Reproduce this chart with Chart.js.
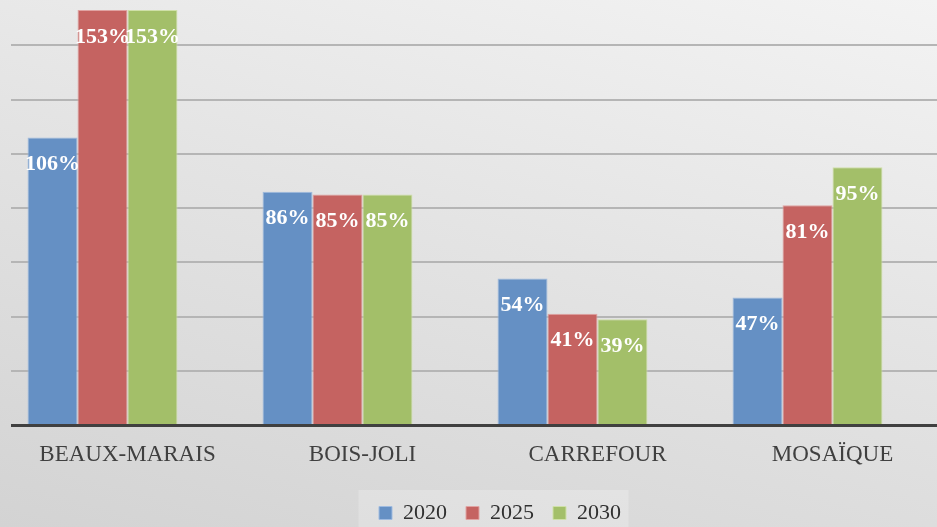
<!DOCTYPE html>
<html>
<head>
<meta charset="utf-8">
<script src="https://cdn.jsdelivr.net/npm/chart.js@4"></script>
<style>
  html, body { margin: 0; padding: 0; width: 937px; height: 527px; overflow: hidden; }
  body { background: linear-gradient(195deg, #f3f3f3 0%, #e4e4e4 45%, #d3d3d3 100%); position: relative; }
  #wrap { position: absolute; left: -15px; top: -10px; width: 952px; height: 544px; }
</style>
</head>
<body>
<div id="wrap"><canvas id="myChart"></canvas></div>
<script>
// categories, series and grid values
const sites = ['BEAUX-MARAIS', 'BOIS-JOLI', 'CARREFOUR', 'MOSAÏQUE']
const years = ['2020', '2025', '2030']
const y2020 = [106, 86, 54, 47]
const y2025 = [153, 85, 41, 81]
const y2030 = [153, 85, 39, 95]
const gridValues = [20, 40, 60, 80, 100, 120, 140]

const FONT = '"Liberation Serif", "Times New Roman", serif'

// horizontal grid lines + dark baseline, from x=11 (page) to the right edge
const gridPlugin = {
    id: 'grid',
    beforeDatasetsDraw(chart) {
        const ctx = chart.ctx
        const y = chart.scales.y
        const left = 26, right = chart.width
        ctx.save()
        ctx.strokeStyle = '#b5b5b5'
        ctx.lineWidth = 2
        gridValues.forEach(v => {
            const py = Math.round(y.getPixelForValue(v))
            ctx.beginPath()
            ctx.moveTo(left, py)
            ctx.lineTo(right, py)
            ctx.stroke()
        })
        ctx.restore()
    },
    afterDatasetsDraw(chart) {
        const ctx = chart.ctx
        const y = chart.scales.y
        ctx.save()
        ctx.strokeStyle = '#404040'
        ctx.lineWidth = 3
        const py = y.getPixelForValue(0) + 0.5
        ctx.beginPath()
        ctx.moveTo(26, py)
        ctx.lineTo(chart.width, py)
        ctx.stroke()

        // value labels inside the bar tops
        ctx.fillStyle = '#ffffff'
        ctx.font = 'bold 22px ' + FONT
        ctx.textAlign = 'center'
        ctx.textBaseline = 'middle'
        chart.data.datasets.forEach((ds, i) => {
            chart.getDatasetMeta(i).data.forEach((bar, j) => {
                ctx.fillText(ds.data[j] + '%', bar.x, bar.y + 27)
            })
        })
        ctx.restore()
    }
}

// the legend sits a bit right of centre in the original
const legendShift = {
    id: 'legendShift',
    afterLayout(chart) {
        chart.legend.left += 45
        chart.legend.right += 45
    },
    beforeDraw(chart) {
        // lighter panel behind the legend
        const lg = chart.legend
        const w = lg.lineWidths[0]
        const x0 = (lg.left + lg.right) / 2 - w / 2
        const ctx = chart.ctx
        ctx.save()
        ctx.fillStyle = 'rgba(255,255,255,0.22)'
        ctx.fillRect(x0 - 11, lg.top + 7, w + 9, 80)
        ctx.restore()
    }
}

function createChart() {
    const ctx = document.getElementById('myChart')
    new Chart(ctx, {
        type: 'bar',
        data: {
            labels: sites,
            datasets: [{
                label: years[0],
                data: y2020,
                backgroundColor: '#6590c4',
                borderColor: '#9fbbe0',
                borderWidth: 1
            }, {
                label: years[1],
                data: y2025,
                backgroundColor: '#c56361',
                borderColor: '#e0a3a2',
                borderWidth: 1
            }, {
                label: years[2],
                data: y2030,
                backgroundColor: '#a3bf69',
                borderColor: '#cfe0a8',
                borderWidth: 1
            }]
        },
        options: {
            responsive: true,
            maintainAspectRatio: false,
            animation: false,
            layout: { padding: { top: 1, right: 12, left: 0, bottom: 0 } },
            datasets: {
                bar: { categoryPercentage: 0.638, barPercentage: 1 }
            },
            scales: {
                x: {
                    grid: { display: false, drawTicks: false },
                    border: { display: false },
                    ticks: {
                        color: '#404040',
                        padding: 16,
                        labelOffset: 25,
                        font: { family: FONT, size: 23 }
                    },
                    afterFit: s => { s.height = 58 }
                },
                y: {
                    display: false,
                    min: 0,
                    max: 160
                }
            },
            plugins: {
                legend: {
                    position: 'bottom',
                    labels: {
                        color: '#303030',
                        boxWidth: 13,
                        boxHeight: 13,
                        padding: 19,
                        font: { family: FONT, size: 22 }
                    }
                },
                tooltip: { enabled: false }
            }
        },
        plugins: [legendShift, gridPlugin]
    })
}

createChart()
</script>
</body>
</html>
